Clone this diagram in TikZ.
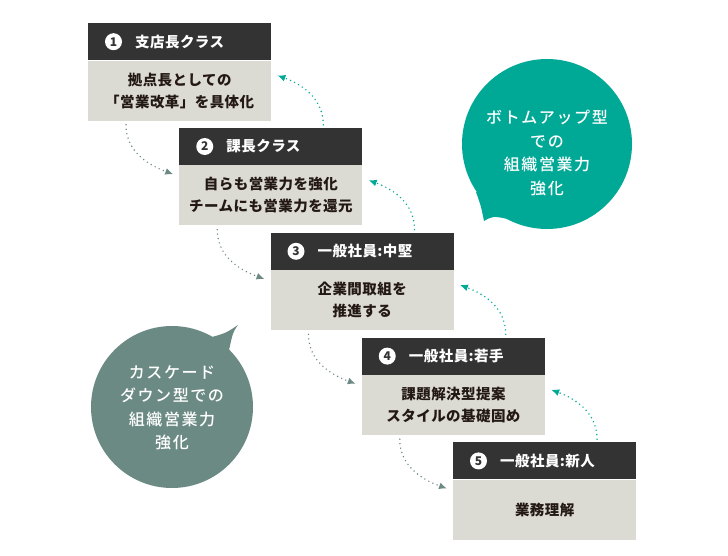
\documentclass[tikz,border=0pt]{standalone}
\usepackage{fontspec}
\setmainfont{Noto Sans CJK JP}
\newfontfamily\boxjp{Noto Sans CJK JP}[LetterSpace=3]
\newfontfamily\bubblejp{Noto Sans CJK JP Medium}[LetterSpace=10]
\usetikzlibrary{positioning, arrows.meta}

\definecolor{headgray}{HTML}{333333}
\definecolor{bodygray}{HTML}{DCDBD3}
\definecolor{inkbrown}{HTML}{231815}
\definecolor{upteal}{HTML}{00A896}
\definecolor{downgray}{HTML}{6B8A84}

\tikzstyle{head} = [
    rectangle,
    fill=headgray,
    text=white,
    minimum height=37pt,
    text width=183pt,
    inner sep=0pt,
    align=left,
    font=\boxjp\bfseries\fontsize{14.5}{18}\selectfont
]
\tikzstyle{body} = [
    rectangle,
    fill=bodygray,
    text=inkbrown,
    minimum width=183pt,
    minimum height=60pt,
    inner sep=0pt,
    align=center,
    font=\boxjp\bfseries\fontsize{14.5}{22}\selectfont
]
\tikzstyle{numdot} = [
    circle,
    fill=white,
    text=headgray,
    minimum size=17pt,
    inner sep=0pt,
    font=\bfseries\fontsize{12}{12}\selectfont
]
\tikzstyle{bubble} = [
    circle,
    inner sep=0pt
]
\tikzstyle{bubbletext} = [
    text=white,
    align=center,
    font=\bubblejp\fontsize{16}{23.5}\selectfont
]
\tikzstyle{uparrow} = [upteal, line width=1.6pt, line cap=round,
    dash pattern=on 0pt off 4.5pt, -{Latex[length=8pt,width=7pt]}]
\tikzstyle{downarrow} = [downgray, line width=1.6pt, line cap=round,
    dash pattern=on 0pt off 4.5pt, -{Latex[length=8pt,width=7pt]}]

\begin{document}
\begin{tikzpicture}[x=1pt, y=1pt]

\useasboundingbox (0,0) rectangle (728,-556);

% speech bubbles
\node (bottomup) [bubble, fill=upteal, minimum size=170pt] at (547,-144) {};
\fill[upteal] (476,-192) .. controls (481,-206) .. (484,-221)
    .. controls (493,-216) .. (508,-219) -- (515,-200) -- cycle;
\node (bottomuptext) [bubbletext] at (547,-153)
{ボトムアップ型\\での\\組織営業力\\強化};

\node (cascade) [bubble, fill=downgray, minimum size=162pt] at (172,-407) {};
\fill[downgray] (212,-337) .. controls (226,-333) .. (238,-325)
    .. controls (233,-332) .. (229,-350) -- (205,-360) -- cycle;
\node (cascadetext) [bubbletext] at (172,-408)
{カスケード\\ダウン型での\\組織営業力\\強化};

% steps
\node (head1) [head, anchor=north west] at (88,-23)
{\hspace*{47pt}支店長クラス};
\node (body1) [body, below=0pt of head1]
{拠点長としての\\「営業改革」を具体化};

\node (head2) [head, below right=7pt and 91.25pt of body1.south west]
{\hspace*{47pt}課長クラス};
\node (body2) [body, below=0pt of head2]
{自らも営業力を強化\\チームにも営業力を還元};

\node (head3) [head, below right=7pt and 91.25pt of body2.south west]
{\hspace*{47pt}一般社員:中堅};
\node (body3) [body, below=0pt of head3]
{企業間取組を\\推進する};

\node (head4) [head, below right=7pt and 91.25pt of body3.south west]
{\hspace*{47pt}一般社員:若手};
\node (body4) [body, below=0pt of head4]
{課題解決型提案\\スタイルの基礎固め};

\node (head5) [head, below right=7pt and 91.25pt of body4.south west]
{\hspace*{47pt}一般社員:新人};
\node (body5) [body, below=0pt of head5]
{業務理解};

\node (num1) [numdot] at ([xshift=25.5pt]head1.west) {1};
\node (num2) [numdot] at ([xshift=25.5pt]head2.west) {2};
\node (num3) [numdot] at ([xshift=25.5pt]head3.west) {3};
\node (num4) [numdot] at ([xshift=25.5pt]head4.west) {4};
\node (num5) [numdot] at ([xshift=25.5pt]head5.west) {5};

% cascade down
\draw [downarrow] ([xshift=38pt,yshift=-4pt]body1.south west)
    to[out=-90,in=160] ([xshift=-6pt,yshift=-9pt]head2.south west);
\draw [downarrow] ([xshift=38pt,yshift=-4pt]body2.south west)
    to[out=-90,in=160] ([xshift=-6pt,yshift=-9pt]head3.south west);
\draw [downarrow] ([xshift=38pt,yshift=-4pt]body3.south west)
    to[out=-90,in=160] ([xshift=-6pt,yshift=-9pt]head4.south west);
\draw [downarrow] ([xshift=38pt,yshift=-4pt]body4.south west)
    to[out=-90,in=160] ([xshift=-6pt,yshift=-9pt]head5.south west);

% bottom up
\draw [uparrow] ([xshift=144pt,yshift=3pt]head2.north west)
    to[out=90,in=-20] ([xshift=6pt,yshift=-15pt]body1.north east);
\draw [uparrow] ([xshift=144pt,yshift=3pt]head3.north west)
    to[out=90,in=-20] ([xshift=6pt,yshift=-15pt]body2.north east);
\draw [uparrow] ([xshift=144pt,yshift=3pt]head4.north west)
    to[out=90,in=-20] ([xshift=6pt,yshift=-15pt]body3.north east);
\draw [uparrow] ([xshift=144pt,yshift=3pt]head5.north west)
    to[out=90,in=-20] ([xshift=6pt,yshift=-15pt]body4.north east);

\end{tikzpicture}
\end{document}
